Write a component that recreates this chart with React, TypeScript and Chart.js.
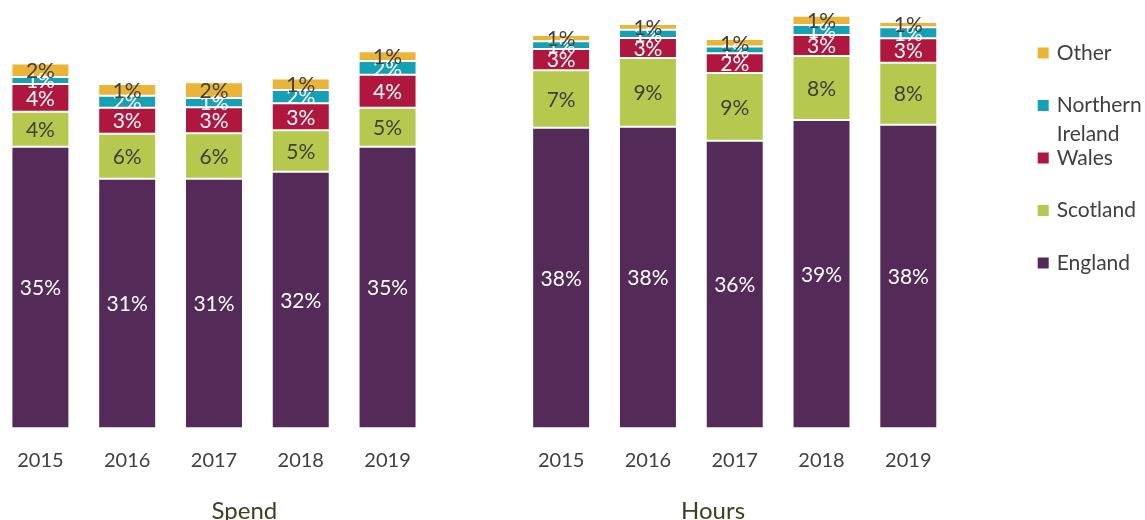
import React, { useEffect, useRef } from 'react';
import { Chart, registerables } from 'chart.js';

Chart.register(...registerables);

// ---- data ----
const years = ['2015', '2016', '2017', '2018', '2019'];
const groupNames = ['Spend', 'Hours'];

const englandSpend = [35.33, 31.32, 31.32, 32.2, 35.33];
const englandHours = [37.72, 37.84, 36.09, 38.68, 38.09];
const scotlandSpend = [4.38, 5.65, 5.7, 5.19, 4.89];
const scotlandHours = [7.2, 8.62, 8.5, 8.03, 7.78];
const walesSpend = [3.5, 3.26, 3.26, 3.39, 4.14];
const walesHours = [2.67, 2.51, 2.46, 2.63, 3.06];
const niSpend = [0.88, 1.51, 1.17, 1.67, 1.72];
const niHours = [0.97, 1.04, 0.84, 1.25, 1.38];
const otherSpend = [1.68, 1.47, 1.97, 1.45, 1.22];
const otherHours = [0.79, 0.72, 0.97, 1.17, 0.66];

const categories = [...years, '', ...years];
const join = (a: number[], b: number[]) => [...a, null, ...b];

const FONT = 'Lato';
const DARK = '#404040';

const seriesDefs = [
  { label: 'England', color: '#532A58', text: '#FFFFFF', data: join(englandSpend, englandHours) },
  { label: 'Scotland', color: '#B6C84D', text: DARK, data: join(scotlandSpend, scotlandHours) },
  { label: 'Wales', color: '#AF173F', text: '#FFFFFF', data: join(walesSpend, walesHours) },
  { label: 'Northern Ireland', color: '#14A0B5', text: '#FFFFFF', data: join(niSpend, niHours) },
  { label: 'Other', color: '#EAB537', text: DARK, data: join(otherSpend, otherHours) },
];

const valueLabels = {
  id: 'valueLabels',
  afterDatasetsDraw(chart: any) {
    const ctx = chart.ctx;
    ctx.save();
    ctx.font = `21px ${FONT}`;
    ctx.textAlign = 'center';
    ctx.textBaseline = 'middle';
    chart.data.datasets.forEach((ds: any, i: number) => {
      const meta = chart.getDatasetMeta(i);
      meta.data.forEach((el: any, j: number) => {
        const v = ds.data[j];
        if (v == null) return;
        const { x, y, base } = el.getProps(['x', 'y', 'base'], true);
        ctx.fillStyle = ds.labelColor;
        ctx.fillText(Math.round(v) + '%', x, (y + base) / 2 + 1);
      });
    });
    ctx.restore();
  },
};

const groupLabels = {
  id: 'groupLabels',
  afterDraw(chart: any) {
    const ctx = chart.ctx;
    const xs = chart.scales.x;
    const pos = [2.35, 7.75];
    ctx.save();
    ctx.font = `24px ${FONT}`;
    ctx.fillStyle = '#3F3F22';
    ctx.textAlign = 'center';
    ctx.textBaseline = 'alphabetic';
    groupNames.forEach((g, i) => {
      ctx.fillText(g, xs.getPixelForValue(pos[i]), chart.height - 1);
    });
    ctx.restore();
  },
};

const sideLegend = {
  id: 'sideLegend',
  afterDraw(chart: any) {
    const ctx = chart.ctx;
    const area = chart.chartArea;
    const boxX = area.right + 86;
    const textX = area.right + 105;
    const maxW = 95;
    ctx.save();
    ctx.font = `21px ${FONT}`;
    ctx.textBaseline = 'middle';
    ctx.textAlign = 'left';
    const items = [...chart.data.datasets].reverse();
    items.forEach((ds: any, i: number) => {
      const cy = area.top + 53 + i * 52.5;
      ctx.fillStyle = ds.backgroundColor;
      ctx.fillRect(boxX, cy - 5.5, 11, 11);
      const words = String(ds.label).split(' ');
      const lines: string[] = [];
      let cur = '';
      words.forEach((w) => {
        const t = cur ? cur + ' ' + w : w;
        if (cur && ctx.measureText(t).width > maxW) {
          lines.push(cur);
          cur = w;
        } else cur = t;
      });
      if (cur) lines.push(cur);
      ctx.fillStyle = DARK;
      lines.forEach((ln, k) => ctx.fillText(ln, textX, cy + k * 29));
    });
    ctx.restore();
  },
};

export default function App() {
  const ref = useRef<HTMLCanvasElement>(null);
  useEffect(() => {
    const chart = new Chart(ref.current!, {
      type: 'bar',
      data: {
        labels: categories,
        datasets: seriesDefs.map((s) => ({
          label: s.label,
          data: s.data,
          backgroundColor: s.color,
          borderColor: '#FFFFFF',
          borderWidth: 1,
          borderSkipped: false,
          labelColor: s.text,
          categoryPercentage: 1,
          barPercentage: 0.668,
        })) as any,
      },
      options: {
        responsive: false,
        animation: false,
        layout: { padding: { left: 0, right: 193.3, top: 0, bottom: 27.7 } },
        plugins: {
          legend: { display: false },
          tooltip: { enabled: false },
        },
        scales: {
          x: {
            stacked: true,
            grid: { display: false, drawTicks: false },
            border: { display: false },
            ticks: { padding: 20, color: DARK, font: { family: FONT, size: 20 }, maxRotation: 0, autoSkip: false },
          },
          y: {
            stacked: true,
            display: false,
            min: 0,
            max: 53.74,
          },
        },
      },
      plugins: [valueLabels, groupLabels, sideLegend],
    });
    return () => chart.destroy();
  }, []);
  return (
    <div style={{ position: 'absolute', left: -3, top: 0, width: 1148, height: 520 }}>
      <canvas ref={ref} width={1148} height={520} style={{ display: 'block' }} />
    </div>
  );
}
